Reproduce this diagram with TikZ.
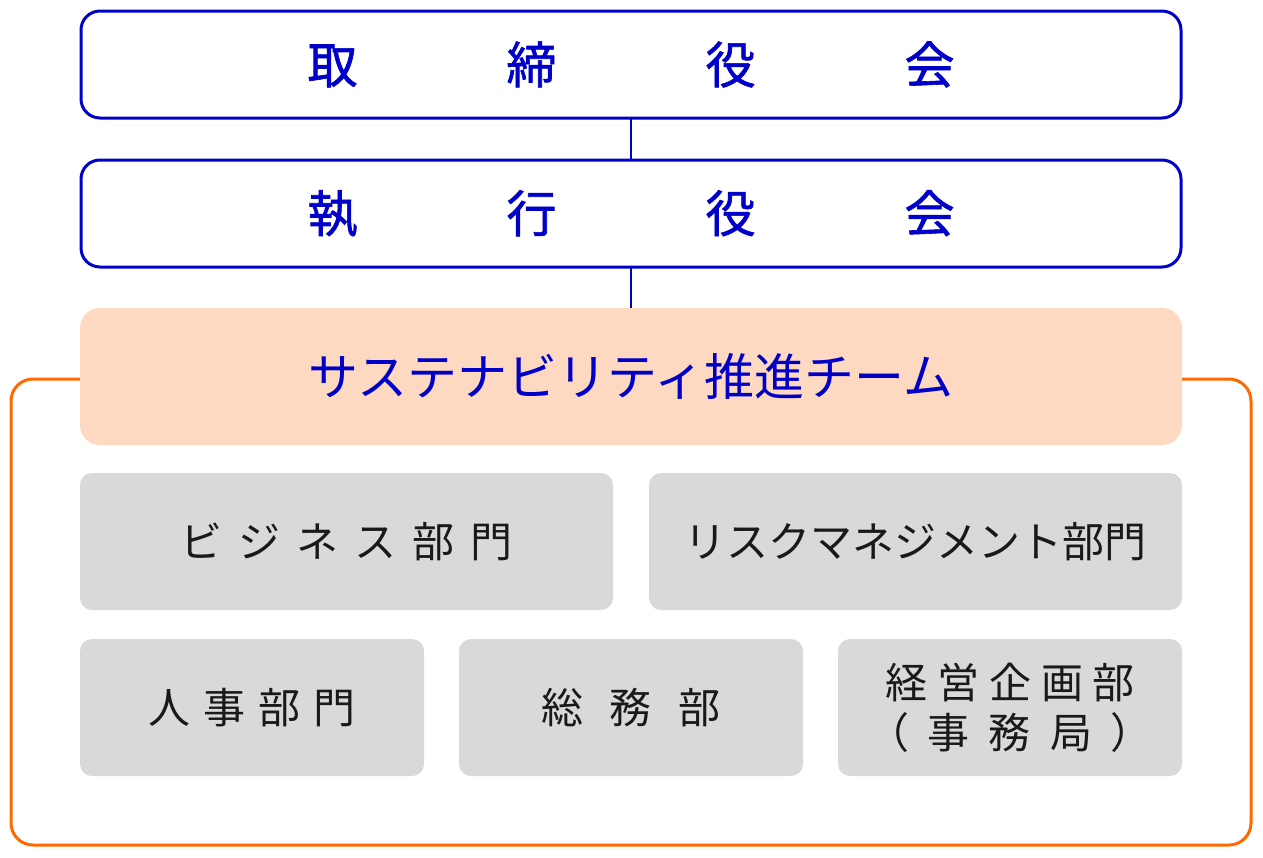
\documentclass[tikz,border=0pt]{standalone}
\usepackage{fontspec}
\setmainfont{Noto Sans CJK JP}
\newfontfamily\jpbold{Noto Sans CJK JP}[FakeBold=1.2]
\definecolor{orgblue}{RGB}{0,0,200}
\definecolor{peach}{RGB}{252,217,192}
\definecolor{lgray}{RGB}{217,217,217}
\definecolor{frameorange}{RGB}{255,106,0}
\tikzset{
  govbox/.style={draw=orgblue, line width=3pt, rounded corners=19pt, fill=white,
    text=orgblue, font=\jpbold\fontsize{50}{60}\selectfont, inner sep=0pt, outer sep=0pt},
  teambox/.style={fill=peach, rounded corners=20pt, text=orgblue,
    font=\fontsize{50}{58}\selectfont, inner sep=0pt, outer sep=0pt},
  deptbox/.style={fill=lgray, rounded corners=12pt, text=black!90,
    font=\fontsize{42}{50}\selectfont, inner sep=0pt, outer sep=0pt, align=center},
  link/.style={draw=orgblue, line width=2.4pt},
  frame/.style={draw=frameorange, line width=3pt, rounded corners=22pt}
}
\begin{document}
\begin{tikzpicture}[x=1pt,y=-1pt]
\useasboundingbox (0,0) rectangle (1263,857);
% orange frame (behind team box)
\draw[frame] (80,379) -- (11,379) -- (11,845) -- (1251,845) -- (1251,379) -- (1182,379);
\node[govbox, minimum width=1100pt, minimum height=107pt] (board) at (631,64.5)
  {取\hspace{149pt}締\hspace{149pt}役\hspace{149pt}会};
\node[govbox, minimum width=1100pt, minimum height=107pt] (exec) at (631,213.5)
  {執\hspace{149pt}行\hspace{149pt}役\hspace{149pt}会};
\node[teambox, minimum width=1102pt, minimum height=137pt] (team) at (631,376.5)
  {サステナビリティ推進チーム};
\draw[link] (board.south) -- (exec.north);
\draw[link] (exec.south) -- (team.north);
\node[deptbox, minimum width=533pt, minimum height=137pt] (biz) at (346.5,541.5)
  {ビ\hspace{16pt}ジ\hspace{16pt}ネ\hspace{16pt}ス\hspace{16pt}部\hspace{16pt}門};
\node[deptbox, minimum width=533pt, minimum height=137pt] (risk) at (915.5,541.5)
  {リスクマネジメント部門};
\node[deptbox, minimum width=344pt, minimum height=137pt] (hr) at (252,707.5)
  {人\hspace{13pt}事\hspace{13pt}部\hspace{13pt}門};
\node[deptbox, minimum width=344pt, minimum height=137pt] (ga) at (631,707.5)
  {総\hspace{27pt}務\hspace{27pt}部};
\node[deptbox, minimum width=344pt, minimum height=137pt] (plan) at (1010,707.5)
  {経\hspace{10pt}営\hspace{10pt}企\hspace{10pt}画\hspace{10pt}部\\
   （\hspace{19pt}事\hspace{19pt}務\hspace{19pt}局\hspace{19pt}）};
\end{tikzpicture}
\end{document}
